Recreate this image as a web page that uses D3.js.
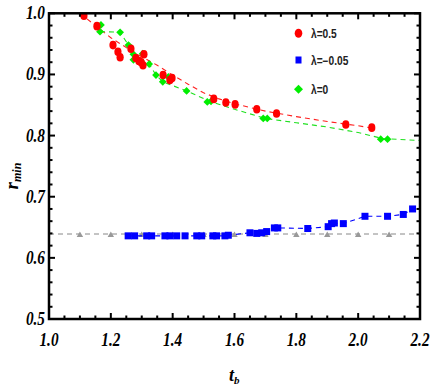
<!DOCTYPE html>
<html><head><meta charset="utf-8">
<script src="https://cdn.jsdelivr.net/npm/d3@7/dist/d3.min.js"></script>
<style>body{margin:0;background:#fff}svg{display:block}</style>
</head><body>
<script>
// ---- data ----
const redT = [1.113,1.155,1.207,1.223,1.230,1.265,1.281,1.291,1.298,1.304,1.307,1.369,1.391,1.398,1.533,1.572,1.602,1.672,1.736,1.960,2.044];
const redR = [0.996,0.979,0.948,0.937,0.928,0.942,0.927,0.922,0.920,0.915,0.933,0.899,0.891,0.894,0.860,0.854,0.851,0.843,0.836,0.818,0.813];
const redFitT = [1.10,1.15,1.20,1.25,1.30,1.35,1.40,1.45,1.50,1.55,1.60,1.70,1.80,1.90,2.00,2.05];
const redFitR = [1.000,0.980,0.960,0.944,0.929,0.915,0.899,0.884,0.870,0.860,0.852,0.840,0.831,0.823,0.816,0.812];

const greenT = [1.168,1.165,1.230,1.257,1.273,1.303,1.273,1.324,1.346,1.368,1.386,1.445,1.512,1.524,1.693,1.706,2.073,2.095];
const greenR = [0.981,0.970,0.969,0.948,0.933,0.934,0.924,0.917,0.899,0.888,0.896,0.873,0.855,0.856,0.828,0.828,0.794,0.794];
const greenLineT = [1.165,1.230,1.257,1.273,1.300,1.324,1.346,1.368,1.445,1.520,1.600,1.700,1.800,1.900,2.000,2.080,2.200];
const greenLineR = [0.970,0.969,0.948,0.933,0.924,0.917,0.899,0.888,0.873,0.856,0.843,0.828,0.821,0.814,0.805,0.795,0.792];

const blueT = [1.256,1.277,1.316,1.332,1.375,1.391,1.413,1.440,1.478,1.494,1.530,1.542,1.569,1.580,1.650,1.672,1.688,1.704,1.729,1.740,1.837,1.903,1.914,1.923,1.952,2.022,2.095,2.146,2.176];
const blueR = [0.636,0.636,0.636,0.636,0.636,0.636,0.636,0.636,0.636,0.636,0.636,0.636,0.636,0.637,0.641,0.640,0.641,0.643,0.649,0.649,0.648,0.651,0.656,0.657,0.656,0.668,0.668,0.671,0.680];

const grayT = [1.1,1.2,1.3,1.4,1.5,1.6,1.7,1.8,1.9,2.0,2.1];
const grayR = [0.637,0.637,0.637,0.637,0.637,0.637,0.637,0.637,0.637,0.637,0.637];
const grayLineT = [1.0,2.2];
const grayLineR = [0.639,0.639];

const xTicks = [1.0,1.2,1.4,1.6,1.8,2.0,2.2];
const yTicks = [0.5,0.6,0.7,0.8,0.9,1.0];
const legendLabels = ["λ=0.5","λ=−0.05","λ=0"];

// ---- layout ----
const W=430,H=386;
const svg=d3.select("body").append("svg").attr("width",W).attr("height",H);
const x=d3.scaleLinear().domain([1.0,2.2]).range([49,420]);
const y=d3.scaleLinear().domain([0.5,1.0]).range([319,13.3]);

const plot=svg.append("g");
svg.append("clipPath").attr("id","cp").append("rect")
  .attr("x",49).attr("y",13.3).attr("width",371).attr("height",305.7);
const inner=plot.append("g").attr("clip-path","url(#cp)");

const line=d3.line().x(d=>x(d[0])).y(d=>y(d[1]));
const zip=(a,b)=>a.map((v,i)=>[v,b[i]]);

// gray reference
inner.append("path").datum(zip(grayLineT,grayLineR)).attr("d",line)
  .attr("fill","none").attr("stroke","#888").attr("stroke-width",1).attr("stroke-dasharray","5,4");
inner.selectAll(".tri").data(zip(grayT,grayR)).join("path")
  .attr("d",d3.symbol(d3.symbolTriangle,18))
  .attr("transform",d=>`translate(${x(d[0])},${y(d[1])})`).attr("fill","#999");

// lines
inner.append("path").datum(zip(redFitT,redFitR)).attr("d",line)
  .attr("fill","none").attr("stroke","#ff2020").attr("stroke-width",1.1).attr("stroke-dasharray","5,4");
inner.append("path").datum(zip(greenLineT,greenLineR)).attr("d",line)
  .attr("fill","none").attr("stroke","#20e020").attr("stroke-width",1.1).attr("stroke-dasharray","5,4");
inner.append("path").datum(zip(blueT,blueR)).attr("d",line)
  .attr("fill","none").attr("stroke","#0000ff").attr("stroke-width",1.1).attr("stroke-dasharray","5,4");

// markers
inner.selectAll(".g").data(zip(greenT,greenR)).join("path")
  .attr("d",d3.symbol(d3.symbolSquare,30))
  .attr("transform",d=>`translate(${x(d[0])},${y(d[1])}) rotate(45)`).attr("fill","#00ee00");
inner.selectAll(".b").data(zip(blueT,blueR)).join("rect")
  .attr("x",d=>x(d[0])-3.5).attr("y",d=>y(d[1])-3.5).attr("width",7).attr("height",7).attr("fill","#0000ff");
inner.selectAll(".r").data(zip(redT,redR)).join("ellipse")
  .attr("cx",d=>x(d[0])).attr("cy",d=>y(d[1])).attr("rx",3.6).attr("ry",4.3).attr("fill","#ff0000");

// ticks (all four sides, inward)
const xMinor=d3.range(1.0,2.2001,0.05);
const yMinor=d3.range(0.5,1.0001,0.02);
const tk=plot.append("g").attr("stroke","#000").attr("stroke-width",2);
xMinor.forEach(v=>{
  const major=xTicks.some(t=>Math.abs(t-v)<1e-6);
  const L=major?6:3.5;
  tk.append("line").attr("x1",x(v)).attr("x2",x(v)).attr("y1",319).attr("y2",319-L);
  tk.append("line").attr("x1",x(v)).attr("x2",x(v)).attr("y1",13.3).attr("y2",13.3+L);
});
yMinor.forEach(v=>{
  const major=yTicks.some(t=>Math.abs(t-v)<1e-6);
  const L=major?6:3.5;
  tk.append("line").attr("y1",y(v)).attr("y2",y(v)).attr("x1",49).attr("x2",49+L);
  tk.append("line").attr("y1",y(v)).attr("y2",y(v)).attr("x1",420).attr("x2",420-L);
});
// frame
plot.append("rect").attr("x",49).attr("y",13.3).attr("width",371).attr("height",305.7)
  .attr("fill","none").attr("stroke","#000").attr("stroke-width",2.5);

// tick labels
const lab=svg.append("g").attr("font-family","'Liberation Serif',serif").attr("font-style","italic")
  .attr("font-weight","bold").attr("font-size",18).attr("fill","#000");
xTicks.forEach(v=>{
  lab.append("g").attr("transform",`translate(${x(v)},345.5) scale(0.85,1)`)
    .append("text").attr("text-anchor","middle").text(d3.format(".1f")(v));
});
yTicks.forEach(v=>{
  lab.append("g").attr("transform",`translate(45,${y(v)+6}) scale(0.85,1)`)
    .append("text").attr("text-anchor","end").text(d3.format(".1f")(v));
});

// axis titles
const xt=lab.append("text").attr("x",229).attr("y",381);
xt.append("tspan").text("t");
xt.append("tspan").attr("font-size",11).attr("dy",3).text("b");
const yt=svg.append("g").attr("transform","translate(18,176) rotate(-90)")
  .attr("font-family","'Liberation Serif',serif").attr("font-style","italic").attr("font-weight","bold").attr("fill","#000");
const ytt=yt.append("text").attr("text-anchor","middle").attr("font-size",19);
ytt.append("tspan").text("r");
ytt.append("tspan").attr("font-size",12).attr("dy",3).text("min");

// legend
const lg=svg.append("g").attr("font-family","'Liberation Sans',Arial,sans-serif").attr("font-weight","bold").attr("font-size",12).attr("fill","#222");
const ly=[33.3,60,89.3];
lg.append("ellipse").attr("cx",298.5).attr("cy",ly[0]).attr("rx",3.8).attr("ry",4.5).attr("fill","#ff0000");
lg.append("rect").attr("x",295.5).attr("y",ly[1]-3.5).attr("width",6).attr("height",7).attr("fill","#0000ff");
lg.append("path").attr("d",d3.symbol(d3.symbolSquare,40)).attr("transform",`translate(298.5,${ly[2]}) rotate(45)`).attr("fill","#00ee00");
legendLabels.forEach((t,i)=>{
  lg.append("g").attr("transform",`translate(311,${ly[i]+4.5}) scale(0.85,1)`).append("text").text(t);
});
</script>
</body></html>
